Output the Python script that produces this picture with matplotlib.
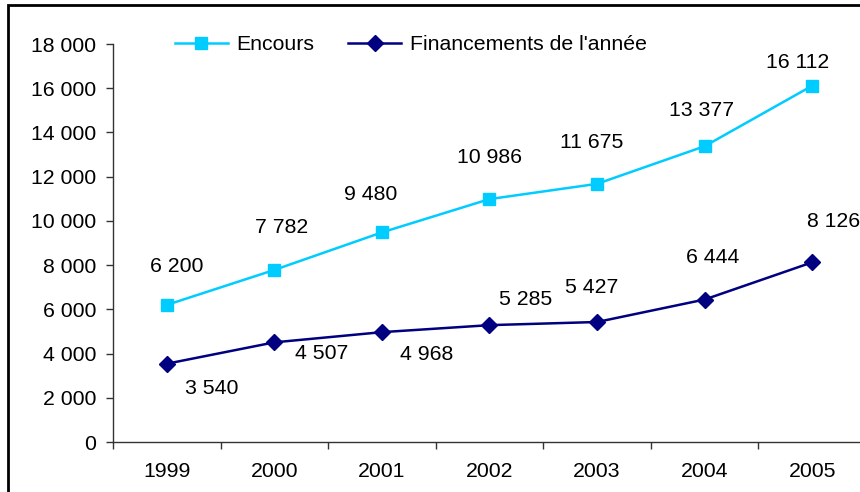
import matplotlib
matplotlib.use("Agg")
import matplotlib.pyplot as plt
from matplotlib.patches import Rectangle

# ── data ──────────────────────────────────────
years        = ["1999", "2000", "2001", "2002", "2003", "2004", "2005"]
encours      = [6200, 7782, 9480, 10986, 11675, 13377, 16112]
financements = [3540, 4507, 4968, 5285, 5427, 6444, 8126]

# label offsets in pixels (dx, dy), as placed by hand in the original
enc_offsets = [(10, 38), (7, 42), (-11, 38), (0, 42), (-5, 41), (-3, 36), (-15, 23)]
fin_offsets = [(45, -25), (47, -11), (45, -22), (36, 26), (-5, 35), (8, 42), (21, 41)]

plt.rcParams["font.family"] = ["Liberation Sans", "DejaVu Sans"]
FS = 15.3

def fmt(v):
    return f"{v:,}".replace(",", " ")

W, H = 860, 492
fig = plt.figure(figsize=(W / 100, H / 100), dpi=100, facecolor="white")

# axes box: x 113..866 px, y 44..442 px
ax = fig.add_axes([113 / W, 1 - 442 / H, (866 - 113) / W, (442 - 44) / H])
ax.set_facecolor("white")

x = list(range(len(years)))
ENC_C = "#00CCFF"
FIN_C = "#000080"

ax.plot(x, encours, color=ENC_C, lw=1.8, marker="s", ms=9,
        mec=ENC_C, mfc=ENC_C, label="Encours", clip_on=False)
ax.plot(x, financements, color=FIN_C, lw=1.8, marker="D", ms=8.5,
        mec=FIN_C, mfc=FIN_C, label="Financements de l'année", clip_on=False)

for xi, v, (dx, dy) in zip(x, encours, enc_offsets):
    ax.annotate(fmt(v), (xi, v), xytext=(dx, dy), textcoords="offset pixels",
                ha="center", va="center", fontsize=FS, color="black",
                annotation_clip=False)
for xi, v, (dx, dy) in zip(x, financements, fin_offsets):
    ax.annotate(fmt(v), (xi, v), xytext=(dx, dy), textcoords="offset pixels",
                ha="center", va="center", fontsize=FS, color="black",
                annotation_clip=False)

ax.set_xlim(-0.5, len(years) - 0.5)
ax.set_ylim(0, 18000)
ax.set_yticks(range(0, 18001, 2000))
ax.set_yticklabels([fmt(v) for v in range(0, 18001, 2000)])

# category labels centred, tick marks between categories
ax.set_xticks(x)
ax.set_xticklabels(years)
ax.set_xticks([i - 0.5 for i in range(len(years) + 1)], minor=True)
ax.tick_params(axis="x", which="major", length=0, pad=14.5, labelsize=FS)
ax.tick_params(axis="x", which="minor", length=5, width=1, color="#333333", direction="out")
ax.tick_params(axis="y", length=5, width=1, color="#333333", direction="out",
               pad=7, labelsize=FS)

for side in ["top", "right"]:
    ax.spines[side].set_visible(False)
for side in ["left", "bottom"]:
    ax.spines[side].set_color("#333333")
    ax.spines[side].set_linewidth(1)

ax.legend(loc="upper left", bbox_to_anchor=(166 / W, 1 - 27 / H),
          bbox_transform=fig.transFigure, ncol=2, frameon=False,
          fontsize=FS, handlelength=2.5, columnspacing=1.6,
          handletextpad=0.4, borderaxespad=0)

# outer frame (cut off at the right and bottom in the original)
fig.patches.append(Rectangle((8 / W, -0.1), 1.1, 1 - 5 / H + 0.1,
                             transform=fig.transFigure, fill=False,
                             ec="black", lw=2))

fig.savefig("out.png", dpi=100, facecolor="white")
